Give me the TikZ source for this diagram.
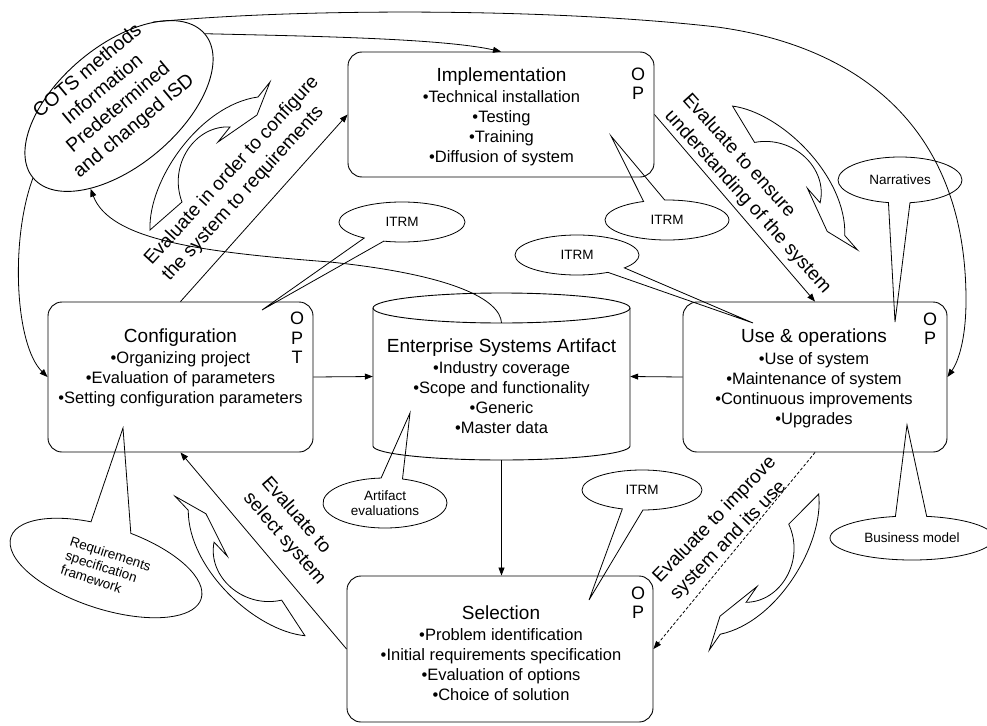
\documentclass[tikz,border=0pt]{standalone}
\usepackage{fontspec}
\setmainfont{Liberation Sans}
\usetikzlibrary{arrows.meta,shapes.geometric,shapes.callouts,calc}

\tikzset{
  box/.style={draw, rounded corners=14pt, line width=0.9pt},
  boxtext/.style={align=center, inner sep=0pt, font=\fontsize{16.5}{20}\selectfont},
  letters/.style={align=center, inner sep=0pt, font=\fontsize{18}{19.5}\selectfont},
  flow/.style={draw, line width=0.8pt, -{Triangle[length=8pt,width=6pt]}},
  evallabel/.style={align=left, inner sep=0pt, anchor=west, font=\fontsize{19}{24}\selectfont},
  callout/.style={ellipse callout, draw, line width=0.8pt, inner sep=0pt, align=center,
    callout pointer arc=20, font=\fontsize{13.5}{15}\selectfont},
  blockarrow/.style={draw, line width=0.8pt, line join=miter},
  cyclearrow/.pic={
    \draw[blockarrow] (-60,74) .. controls (-62,24) and (-10,-51) .. (48,-59)
      -- (60,-74) -- (47,-41) -- (8,-14) -- (20,-29)
      .. controls (-15,-31) and (-42,9) .. (-28,46) -- cycle;
  },
}

\begin{document}
\begin{tikzpicture}[x=1pt, y=-1pt]
\fill[white] (0,0) rectangle (987,725);
\useasboundingbox (0,0) rectangle (987,725);

% process boxes
\node[box, minimum width=306pt, minimum height=125pt] (impl) at (501,114.5) {};
\node[boxtext] (impltext) at (501.5,116.5) {{\fontsize{19}{21}\selectfont Implementation}\\[1pt]
  •Technical installation\\ •Testing\\ •Training\\ •Diffusion of system};
\node[letters] (implop) at (638,83.5) {O\\P};

\node[box, minimum width=265pt, minimum height=150pt] (config) at (180.5,377) {};
\node[boxtext] (configtext) at (180.5,367.5) {{\fontsize{19}{21}\selectfont Configuration}\\[1pt]
  •Organizing project\\ •Evaluation of parameters\\ •Setting configuration parameters};
\node[letters] (configop) at (297,338) {O\\P\\T};

\node[box, minimum width=264pt, minimum height=150pt] (use) at (815,377) {};
\node[boxtext] (usetext) at (814,378.5) {{\fontsize{19}{21}\selectfont Use \& operations}\\[2pt]
  •Use of system\\ •Maintenance of system\\ •Continuous improvements\\ •Upgrades};
\node[letters] (useop) at (930,328.5) {O\\P};

\node[box, minimum width=306pt, minimum height=146pt] (sel) at (500,649) {};
\node[boxtext] (seltext) at (501,653.5) {{\fontsize{19}{21}\selectfont Selection}\\[1pt]
  •Problem identification\\ •Initial requirements specification\\ •Evaluation of options\\ •Choice of solution};
\node[letters] (selop) at (638,602.5) {O\\P};

% artifact cylinder
\node[minimum width=257pt, minimum height=167pt, inner sep=0pt] (esa) at (501.5,376.5) {};
\draw[line width=0.9pt] (501.5,308) ellipse [x radius=128.5pt, y radius=15pt];
\draw[line width=0.9pt] (373,308) -- (373,446)
  arc[start angle=180, end angle=360, x radius=128.5pt, y radius=14pt] -- (630,308);
\node[boxtext] (esatext) at (501.5,386) {{\fontsize{19}{21}\selectfont Enterprise Systems Artifact}\\[1pt]
  •Industry coverage\\ •Scope and functionality\\ •Generic\\ •Master data};

% method hub
\node[draw, ellipse, rotate=40, minimum width=224pt, minimum height=120pt, inner sep=0pt,
  line width=0.9pt] (hub) at (119,106) {};
\node[rotate=40, align=center, inner sep=0pt, font=\fontsize{19.5}{24}\selectfont] (hubtext)
  at (111,99) {COTS methods\\Information\\Predetermined\\and changed ISD};

% main cycle
\draw[flow] (config.north) -- (impl.west);
\draw[flow] (impl.east) -- (use.north);
\draw[flow] (config.east) -- (esa.west);
\draw[flow] (use.west) -- (esa.east);
\draw[flow] (esa.south) -- (esa.south |- sel.north);
\draw[flow] (sel.west) -- (config.south);
\draw[flow, dash pattern=on 3pt off 2pt] (use.south) -- (sel.east);

% hub links
\draw[flow] (hub.west) .. controls (10,240) and (15,345) .. (config.west);
\draw[flow] (hub.east) .. controls (300,36) and (440,38) .. (impl.north);
\draw[flow] (hub.28) .. controls (300,8) and (550,8) .. (717,27)
  .. controls (850,45) and (966,120) .. (966,300)
  .. controls (966,340) and (958,362) .. (use.east);
\draw[flow] ($(esa.north)+(0,30)$) .. controls (500,300) and (455,275) .. (330,262)
  .. controls (200,252) and (110,240) .. (hub.211);

% evaluation labels
\node[evallabel, rotate=47.6] (lab1) at (157,270.5) {Evaluate in order to configure\\the system to requirements};
\node[evallabel, rotate=-48] (lab2) at (676.5,105) {Evaluate to ensure\\understanding of the system};
\node[evallabel, rotate=-49] (lab3) at (255.5,487.5) {Evaluate to\\select system};
\node[evallabel, rotate=46] (lab4) at (665,589) {Evaluate to improve\\system and its use};

% callouts
\node[callout, minimum width=126pt, minimum height=40pt, callout absolute pointer={(262,310)}] (itrma) at (402,222) {ITRM};
\node[callout, minimum width=124pt, minimum height=40pt, callout absolute pointer={(753,323)}] (itrmb) at (577,255) {ITRM};
\node[callout, minimum width=124pt, minimum height=40pt, callout absolute pointer={(611,136)}] (itrmc) at (667,220) {ITRM};
\node[callout, minimum width=120pt, minimum height=40pt, callout absolute pointer={(589,600)}] (itrmd) at (642,490) {ITRM};
\node[callout, minimum width=124pt, minimum height=46pt, callout absolute pointer={(895,322)}] (narr) at (900,180) {Narratives};
\node[callout, minimum width=164pt, minimum height=44pt, callout pointer arc=22, callout absolute pointer={(907,425)}] (biz) at (912,538) {Business model};
\node[callout, minimum width=124pt, minimum height=50pt, callout absolute pointer={(410,413)}] (artif) at (385,503) {Artifact\\evaluations};
\node[callout, rotate=-18, minimum width=200pt, minimum height=82pt, callout pointer arc=24, align=left,
  callout absolute pointer={(123,428)}] (reqspec) at (106,568) {Requirements\\specification\\framework};

% circulation arrows
\pic (ca1) at (210,156) {cyclearrow};
\pic[rotate=-100] (ca2) at (795,178) {cyclearrow};
\pic[rotate=-176] (ca3) at (764,572) {cyclearrow};
\pic[rotate=82] (ca4) at (240,566) {cyclearrow};
\end{tikzpicture}
\end{document}
